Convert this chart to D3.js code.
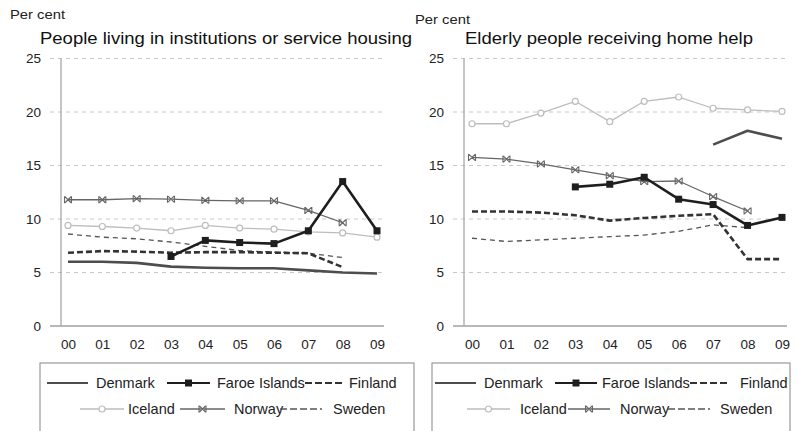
<!DOCTYPE html>
<html><head><meta charset="utf-8">
<script src="https://cdn.jsdelivr.net/npm/d3@7"></script>
<style>
html,body{margin:0;padding:0;background:#fff;}
svg{display:block;font-family:"Liberation Sans",Arial,Helvetica,sans-serif;}
</style></head>
<body><svg id="c" width="797" height="431"></svg>
<script>
// ---- data ----
const years = ["00","01","02","03","04","05","06","07","08","09"];
const yTicks = [0,5,10,15,20,25];
const countries = ["Denmark","Faroe Islands","Finland","Iceland","Norway","Sweden"];
const titleLeft = "People living in institutions or service housing";
const titleRight = "Elderly people receiving home help";
const unitLabel = "Per cent";

// Left panel: institutions / service housing
const leftDenmark = [6.0,6.0,5.9,5.55,5.45,5.4,5.4,5.2,5.0,4.9];
const leftFaroe   = [null,null,null,6.5,8.0,7.8,7.7,8.9,13.5,8.9];
const leftFinland = [6.85,7.0,6.95,6.85,6.9,6.9,6.85,6.8,5.5,null];
const leftIceland = [9.4,9.3,9.15,8.9,9.4,9.15,9.05,8.8,8.7,8.3];
const leftNorway  = [11.8,11.8,11.9,11.85,11.75,11.7,11.7,10.8,9.65,null];
const leftSweden  = [8.6,8.3,8.15,7.85,7.45,7.05,6.9,6.8,6.4,null];

// Right panel: home help
const rightDenmark = [null,null,null,null,null,null,null,16.95,18.25,17.5];
const rightFaroe   = [null,null,null,13.0,13.25,13.9,11.85,11.35,9.4,10.15];
const rightFinland = [10.7,10.7,10.6,10.35,9.85,10.1,10.3,10.45,6.25,6.25];
const rightIceland = [18.9,18.9,19.9,21.0,19.1,21.0,21.4,20.35,20.2,20.05];
const rightNorway  = [15.75,15.6,15.15,14.6,14.05,13.5,13.55,12.1,10.75,null];
const rightSweden  = [8.2,7.9,8.05,8.2,8.35,8.5,8.85,9.45,9.2,null];

const leftSeries  = [leftDenmark,leftFaroe,leftFinland,leftIceland,leftNorway,leftSweden];
const rightSeries = [rightDenmark,rightFaroe,rightFinland,rightIceland,rightNorway,rightSweden];

// ---- styles ----
const styles = {
  "Denmark":       {stroke:"#4d4d4d", width:2.6, dash:null, marker:null},
  "Faroe Islands": {stroke:"#1e1e1e", width:2.6, dash:null, marker:"square"},
  "Finland":       {stroke:"#333",    width:2.6, dash:"6,3", marker:null},
  "Iceland":       {stroke:"#bdbdbd", width:1.3, dash:null, marker:"circle"},
  "Norway":        {stroke:"#666",    width:1.3, dash:null, marker:"x"},
  "Sweden":        {stroke:"#555",    width:1.3, dash:"5,4", marker:null}
};

const svg = d3.select("#c");

function drawMarker(g, type, x, y, st){
  if(type==="square"){
    g.append("rect").attr("x",x-3.5).attr("y",y-3.5).attr("width",7).attr("height",7)
      .attr("fill",st.stroke);
  } else if(type==="circle"){
    g.append("circle").attr("cx",x).attr("cy",y).attr("r",3)
      .attr("fill","#fff").attr("stroke",st.stroke).attr("stroke-width",1.2);
  } else if(type==="x"){
    g.append("path").attr("d",`M${x-3},${y-3}L${x+3},${y+3}M${x-3},${y+3}L${x+3},${y-3}M${x-3.5},${y-3.5}V${y+3.5}M${x+3.5},${y-3.5}V${y+3.5}`)
      .attr("stroke",st.stroke).attr("stroke-width",1.1).attr("fill","none");
  }
}

function panel(cfg){
  const g = svg.append("g");
  const x = d3.scalePoint().domain(years).range([cfg.x0,cfg.x1]);
  const y = d3.scaleLinear().domain([0,25]).range([326,58.5]);

  // gridlines
  g.selectAll("line.grid").data(yTicks.filter(d=>d>0)).join("line")
    .attr("x1",cfg.gx0).attr("x2",cfg.gx1)
    .attr("y1",d=>y(d)).attr("y2",d=>y(d))
    .attr("stroke","#c8c8c8").attr("stroke-width",1).attr("stroke-dasharray","4,4");

  // y axis
  const ya = g.append("g").attr("transform",`translate(${cfg.ax},0)`)
    .call(d3.axisLeft(y).tickValues(yTicks).tickSize(0).tickPadding(cfg.ax-cfg.labelR));
  ya.select(".domain").remove();
  ya.selectAll("text").attr("font-size",13.5).attr("fill","#222")
    .attr("font-family","'Liberation Sans',Arial,sans-serif");
  g.append("line").attr("x1",cfg.ax).attr("x2",cfg.ax).attr("y1",y(25)).attr("y2",y(0))
    .attr("stroke","#a0a0a0").attr("stroke-width",1.2);

  // x axis
  const xa = g.append("g").attr("transform",`translate(0,${y(0)})`)
    .call(d3.axisBottom(x).tickSize(0).tickPadding(13));
  xa.select(".domain").remove();
  xa.selectAll("text").attr("font-size",13.5).attr("fill","#222")
    .attr("font-family","'Liberation Sans',Arial,sans-serif");
  g.append("line").attr("x1",cfg.gx0).attr("x2",cfg.gx1-2).attr("y1",y(0)).attr("y2",y(0))
    .attr("stroke","#a0a0a0").attr("stroke-width",1.5);

  // series
  const line = d3.line().defined(d=>d.v!=null).x(d=>x(d.yr)).y(d=>y(d.v));
  const order = [3,5,4,0,2,1]; // draw order
  order.forEach(i=>{
    const name = countries[i], st = styles[name];
    const pts = years.map((yr,k)=>({yr, v:cfg.series[i][k]}));
    g.append("path").datum(pts).attr("d",line).attr("fill","none")
      .attr("stroke",st.stroke).attr("stroke-width",st.width)
      .attr("stroke-dasharray",st.dash).attr("stroke-linejoin","round");
    if(st.marker){
      pts.filter(d=>d.v!=null).forEach(d=>drawMarker(g, st.marker, x(d.yr), y(d.v), st));
    }
  });

  // titles
  g.append("text").attr("x",cfg.unitX).attr("y",cfg.unitY).text(unitLabel)
    .attr("font-size",13).attr("fill","#222")
    .attr("textLength",55).attr("lengthAdjust","spacingAndGlyphs");
  g.append("text").attr("x",cfg.titleX).attr("y",44).text(cfg.title)
    .attr("font-size",17).attr("fill","#111")
    .attr("textLength",cfg.titleW).attr("lengthAdjust","spacingAndGlyphs");

  // legend
  const lg = svg.append("g");
  lg.append("rect").attr("x",cfg.lx).attr("y",363).attr("width",cfg.lw).attr("height",90)
    .attr("fill","none").attr("stroke","#9a9a9a").attr("stroke-width",1.2);
  cfg.legend.forEach((it,i)=>{
    const name = countries[i], st = styles[name];
    lg.append("line").attr("x1",it[0]).attr("x2",it[1]).attr("y1",it[3]).attr("y2",it[3])
      .attr("stroke",st.stroke).attr("stroke-width",Math.min(st.width,2.2))
      .attr("stroke-dasharray",st.dash ? "7,3" : null);
    if(st.marker) drawMarker(lg, st.marker, (it[0]+it[1])/2, it[3], st);
    lg.append("text").attr("x",it[2]).attr("y",it[3]+5).text(name)
      .attr("font-size",14.5).attr("fill","#222");
  });
}

panel({x0:68,x1:377,gx0:50,gx1:386,ax:61,labelR:41,series:leftSeries,
  title:titleLeft,titleX:40,titleW:372,unitX:10,unitY:19,lx:40,lw:374,
  legend:[[47,88,96,383],[167,210,217,383],[305,345,349,383],
          [80,124,128,409],[180,225,234,409],[280,322,333,409]]});
panel({x0:472,x1:782,gx0:453,gx1:789,ax:464,labelR:444,series:rightSeries,
  title:titleRight,titleX:465,titleW:288,unitX:415,unitY:24,lx:432,lw:358,
  legend:[[435,476,484,383],[555,597,602,383],[690,730,740,383],
          [467,510,520,409],[568,610,620,409],[668,710,720,409]]});
</script></body></html>
